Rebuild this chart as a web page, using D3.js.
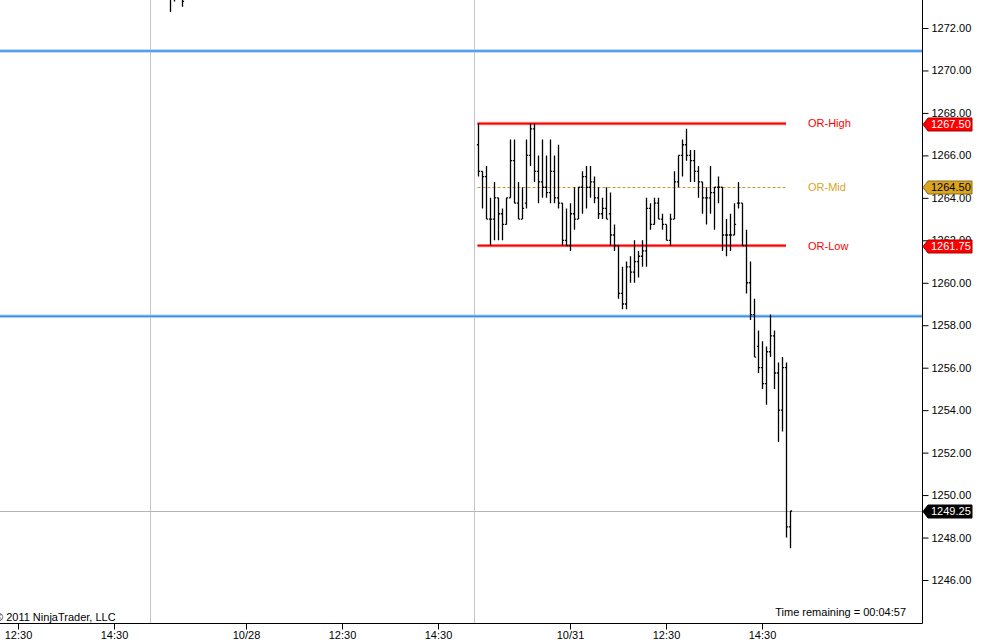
<!DOCTYPE html>
<html>
<head>
<meta charset="utf-8">
<script src="https://cdnjs.cloudflare.com/ajax/libs/d3/7.8.5/d3.min.js"></script>
<style>
  html, body { margin: 0; padding: 0; background: #fff; }
  svg { display: block; font-family: "Liberation Sans", Arial, sans-serif; }
</style>
</head>
<body>
<svg id="chart"></svg>
<script>
// Day sessions on the chart (weekend skipped), 08:30 - 15:15 CT
const SESSIONS = ["10/27", "10/28", "10/31"];
const SESSION_OPEN = 8 * 60 + 30;
const SESSION_LEN = 405;
const BAR_MINUTES = 5;

// 5 minute bars for 10/31, first bar stamped 08:35
const firstBar = "10/31 08:35";
const opens = [1266.5, 1265.25, 1265.0, 1263.0, 1263.0, 1264.0, 1263.25, 1262.75, 1264.0, 1265.75,
  1263.75, 1263.0, 1263.75, 1266.0, 1267.25, 1265.25, 1264.75, 1264.5, 1264.25, 1265.25,
  1264.0, 1263.75, 1262.0, 1261.75, 1263.25, 1263.0, 1264.5, 1265.0, 1264.5, 1264.75,
  1264.0, 1263.25, 1263.5, 1263.25, 1262.25, 1261.75, 1259.5, 1259.0, 1260.75, 1260.5,
  1261.0, 1261.25, 1261.5, 1263.5, 1262.75, 1263.75, 1263.0, 1262.75, 1262.0, 1263.0,
  1264.75, 1266.0, 1266.5, 1266.0, 1265.75, 1265.25, 1264.75, 1264.0, 1264.0, 1264.25,
  1264.5, 1264.5, 1262.25, 1262.25, 1262.25, 1263.75, 1263.75, 1261.75, 1260.0, 1258.5,
  1257.0, 1256.0, 1255.25, 1256.75, 1257.5, 1255.75, 1254.0, 1256.0, 1248.5];
const highs = [1267.5, 1265.25, 1265.5, 1264.0, 1264.75, 1264.0, 1263.5, 1264.0, 1266.75, 1266.75,
  1264.75, 1264.5, 1266.75, 1267.5, 1267.5, 1266.0, 1266.75, 1266.0, 1266.75, 1266.0,
  1266.5, 1263.75, 1263.5, 1263.75, 1264.5, 1264.5, 1265.25, 1265.5, 1265.5, 1265.0,
  1264.5, 1264.0, 1264.5, 1264.25, 1262.75, 1261.75, 1260.75, 1261.0, 1261.25, 1262.0,
  1261.5, 1262.0, 1264.0, 1263.75, 1264.0, 1264.0, 1263.25, 1262.75, 1263.25, 1265.25,
  1266.0, 1266.75, 1267.25, 1266.25, 1266.25, 1265.5, 1264.75, 1264.5, 1265.5, 1264.5,
  1265.0, 1264.5, 1263.0, 1263.25, 1263.75, 1264.75, 1263.75, 1262.5, 1261.0, 1259.25,
  1257.75, 1257.25, 1257.0, 1258.5, 1257.75, 1256.25, 1256.5, 1256.25, 1249.25];
const lows = [1265.0, 1263.5, 1263.0, 1261.75, 1262.0, 1262.0, 1262.0, 1262.75, 1264.0, 1263.75,
  1263.0, 1263.0, 1263.5, 1265.5, 1264.75, 1263.75, 1264.0, 1264.0, 1263.75, 1263.75,
  1263.5, 1261.75, 1261.75, 1261.5, 1262.5, 1263.0, 1263.25, 1263.5, 1264.0, 1263.75,
  1263.0, 1263.0, 1263.0, 1261.75, 1261.5, 1259.25, 1258.75, 1258.75, 1260.0, 1260.0,
  1260.25, 1260.75, 1260.75, 1262.5, 1262.75, 1263.0, 1262.5, 1262.0, 1261.75, 1263.0,
  1264.5, 1265.0, 1265.75, 1264.75, 1264.75, 1264.0, 1263.25, 1262.75, 1263.25, 1262.5,
  1263.75, 1261.5, 1261.25, 1261.5, 1262.25, 1263.5, 1261.75, 1259.5, 1258.25, 1256.5,
  1255.75, 1255.0, 1254.25, 1256.5, 1255.0, 1252.5, 1253.0, 1248.0, 1247.5];
const closes = [1265.25, 1265.0, 1263.0, 1263.0, 1264.0, 1263.25, 1262.75, 1264.0, 1265.75, 1263.75,
  1263.0, 1263.5, 1266.0, 1267.25, 1265.25, 1264.75, 1264.5, 1264.25, 1265.25, 1264.0,
  1263.75, 1262.0, 1261.75, 1263.25, 1263.0, 1264.5, 1265.0, 1264.5, 1264.75, 1264.0,
  1263.25, 1263.5, 1263.0, 1262.25, 1261.75, 1259.5, 1259.0, 1260.75, 1260.5, 1261.0,
  1261.25, 1261.5, 1263.5, 1262.75, 1263.75, 1263.0, 1262.75, 1262.0, 1263.0, 1264.75,
  1266.0, 1266.5, 1266.0, 1265.75, 1265.25, 1264.75, 1264.0, 1264.0, 1264.25, 1264.5,
  1264.5, 1262.25, 1262.25, 1262.25, 1262.75, 1263.75, 1261.75, 1260.0, 1258.5, 1256.5,
  1256.0, 1255.25, 1256.75, 1257.5, 1255.75, 1254.0, 1256.0, 1248.5, 1249.25];

// the few 10/28 bars whose lows poke into view at the top
const prevTimes = ["10/28 08:55", "10/28 09:00", "10/28 09:05", "10/28 09:10"];
const prevOpens = [1274.5, 1273.5, 1274.25, 1274.5];
const prevHighs = [1275.25, 1274.75, 1275.0, 1275.0];
const prevLows = [1272.75, 1273.25, 1273.75, 1273.0];
const prevCloses = [1273.5, 1274.25, 1274.5, 1273.25];

// opening range
const orLevels = [1267.5, 1264.5, 1261.75];
const orNames = ["OR-High", "OR-Mid", "OR-Low"];
const orColors = ["#ff0000", "#daa520", "#ff0000"];
const orStart = "10/31 08:35";
const orEnd = "10/31 15:00";

// blue reference levels
const blueLevels = [1270.92, 1258.42];
const lastPrice = 1249.25;

// right side price markers
const markerPrices = [1267.5, 1264.5, 1261.75, 1249.25];
const markerFills = ["#ff0000", "#daa520", "#ff0000", "#000000"];
const markerText = ["#ffffff", "#000000", "#ffffff", "#ffffff"];

const yTicks = [1246, 1248, 1250, 1252, 1254, 1256, 1258, 1260, 1262, 1264, 1266, 1268, 1270, 1272];
const xTickTimes = ["10/27 12:30", "10/27 14:30", "10/28 10:30", "10/28 12:30", "10/28 14:30",
  "10/31 10:30", "10/31 12:30", "10/31 14:30"];
const xTickLabels = ["12:30", "14:30", "10/28", "12:30", "14:30", "10/31", "12:30", "14:30"];
const sessionBreaks = ["10/28 08:30", "10/31 08:30"];

// layout
const width = 982, height = 644;
const plotRight = 922, plotBottom = 623;

// minutes of trading time since the first session's open
function tradeMin(s) {
  const [day, hm] = s.split(" ");
  const [h, m] = hm.split(":").map(Number);
  return SESSIONS.indexOf(day) * SESSION_LEN + (h * 60 + m - SESSION_OPEN);
}
const firstMin = tradeMin(firstBar);

const svg = d3.select("#chart").attr("width", width).attr("height", height);

const x = d3.scaleLinear().domain([0, 1370]).range([-174, plotRight]);
const y = d3.scaleLinear().domain([1246, 1272]).range([580, 28]);

svg.append("defs").append("clipPath").attr("id", "plot")
  .append("rect").attr("x", 0).attr("y", 0).attr("width", plotRight).attr("height", plotBottom);

const plot = svg.append("g").attr("clip-path", "url(#plot)");

// session break verticals
plot.selectAll(".brk").data(sessionBreaks).enter().append("line")
  .attr("x1", d => Math.round(x(tradeMin(d))) + 0.5)
  .attr("x2", d => Math.round(x(tradeMin(d))) + 0.5)
  .attr("y1", 0).attr("y2", plotBottom)
  .attr("stroke", "#c4c4c4").attr("stroke-width", 1);

// last price line
plot.append("line")
  .attr("x1", 0).attr("x2", plotRight)
  .attr("y1", Math.round(y(lastPrice)) + 0.5).attr("y2", Math.round(y(lastPrice)) + 0.5)
  .attr("stroke", "#b4b4b4").attr("stroke-width", 1);

// blue levels
blueLevels.forEach(v => {
  plot.append("line").attr("x1", 0).attr("x2", plotRight)
    .attr("y1", y(v)).attr("y2", y(v))
    .attr("stroke", "#a9d0f5").attr("stroke-width", 3.4);
  plot.append("line").attr("x1", 0).attr("x2", plotRight)
    .attr("y1", y(v)).attr("y2", y(v))
    .attr("stroke", "#3d8fe6").attr("stroke-width", 1.6);
});

// opening range lines and labels
const orX1 = x(tradeMin(orStart)) - 0.5, orX2 = x(tradeMin(orEnd));
orLevels.forEach((v, i) => {
  if (orNames[i] === "OR-Mid") {
    plot.append("line").attr("x1", orX1).attr("x2", orX2)
      .attr("y1", Math.round(y(v)) + 0.5).attr("y2", Math.round(y(v)) + 0.5)
      .attr("stroke", "#c9962a").attr("stroke-width", 1)
      .attr("stroke-dasharray", "3,2");
  } else {
    plot.append("line").attr("x1", orX1).attr("x2", orX2)
      .attr("y1", y(v)).attr("y2", y(v))
      .attr("stroke", "#ff9a9a").attr("stroke-width", 3.4);
    plot.append("line").attr("x1", orX1).attr("x2", orX2)
      .attr("y1", y(v)).attr("y2", y(v))
      .attr("stroke", orColors[i]).attr("stroke-width", 1.8);
  }
  plot.append("text").attr("x", 808).attr("y", y(v)).attr("dy", "0.36em")
    .attr("font-size", 11).attr("fill", orColors[i]).text(orNames[i]);
});

// OHLC bars
function ohlcPath(t, o, h, l, c) {
  const bx = Math.round(x(t)) + 0.5;
  return `M${bx},${y(h)}V${y(l)}M${bx - 1.6},${y(o)}H${bx}M${bx},${y(c)}H${bx + 1.6}`;
}
const bars = plot.append("g").attr("fill", "none").attr("stroke", "#000").attr("stroke-width", 1.3);
bars.selectAll(".bar").data(d3.range(highs.length)).enter().append("path")
  .attr("d", i => ohlcPath(firstMin + i * BAR_MINUTES, opens[i], highs[i], lows[i], closes[i]));
bars.selectAll(".prev").data(d3.range(prevTimes.length)).enter().append("path")
  .attr("d", i => ohlcPath(tradeMin(prevTimes[i]), prevOpens[i], prevHighs[i], prevLows[i], prevCloses[i]));

// footer texts inside the plot
plot.append("text").attr("x", -5).attr("y", 621).attr("font-size", 11).attr("fill", "#000")
  .text("\u00a9 2011 NinjaTrader, LLC");
plot.append("text").attr("x", 906).attr("y", 616).attr("font-size", 11).attr("fill", "#000")
  .attr("text-anchor", "end").text("Time remaining = 00:04:57");

// axes frame
svg.append("line").attr("x1", 0).attr("x2", plotRight + 0.5)
  .attr("y1", plotBottom + 0.5).attr("y2", plotBottom + 0.5).attr("stroke", "#000");
svg.append("line").attr("x1", plotRight + 0.5).attr("x2", plotRight + 0.5)
  .attr("y1", 0).attr("y2", plotBottom + 0.5).attr("stroke", "#000");

// price axis
const yAxis = svg.append("g").attr("transform", `translate(${plotRight + 0.5},0)`)
  .call(d3.axisRight(y).tickValues(yTicks).tickFormat(d3.format(".2f")).tickSize(6).tickPadding(3));
yAxis.select(".domain").remove();
yAxis.selectAll("text").attr("font-size", 11).attr("font-family", "Liberation Sans, Arial, sans-serif").attr("fill", "#000");
yAxis.selectAll("line").attr("stroke", "#000");

// time axis
const xAxis = svg.append("g").attr("transform", `translate(0,${plotBottom + 0.5})`)
  .call(d3.axisBottom(x).tickValues(xTickTimes.map(tradeMin))
    .tickFormat((d, i) => xTickLabels[i]).tickSize(6).tickPadding(2));
xAxis.select(".domain").remove();
xAxis.selectAll("text").attr("font-size", 11).attr("font-family", "Liberation Sans, Arial, sans-serif").attr("fill", "#000");
xAxis.selectAll("line").attr("stroke", "#000");

// price markers on the axis
const mk = svg.append("g");
markerPrices.forEach((v, i) => {
  const cy = Math.round(y(v)) + 0.5;
  const x0 = plotRight + 1, x1 = plotRight + 6, x2 = plotRight + 50;
  mk.append("path")
    .attr("d", `M${x0},${cy}L${x1},${cy - 6.5}H${x2}V${cy + 6.5}H${x1}Z`)
    .attr("fill", markerFills[i]).attr("stroke", d3.color(markerFills[i]).darker(1.2)).attr("stroke-width", 1);
  mk.append("text").attr("x", x1 + 3).attr("y", cy).attr("dy", "0.36em")
    .attr("font-size", 11).attr("fill", markerText[i]).text(d3.format(".2f")(v));
});
</script>
</body>
</html>
